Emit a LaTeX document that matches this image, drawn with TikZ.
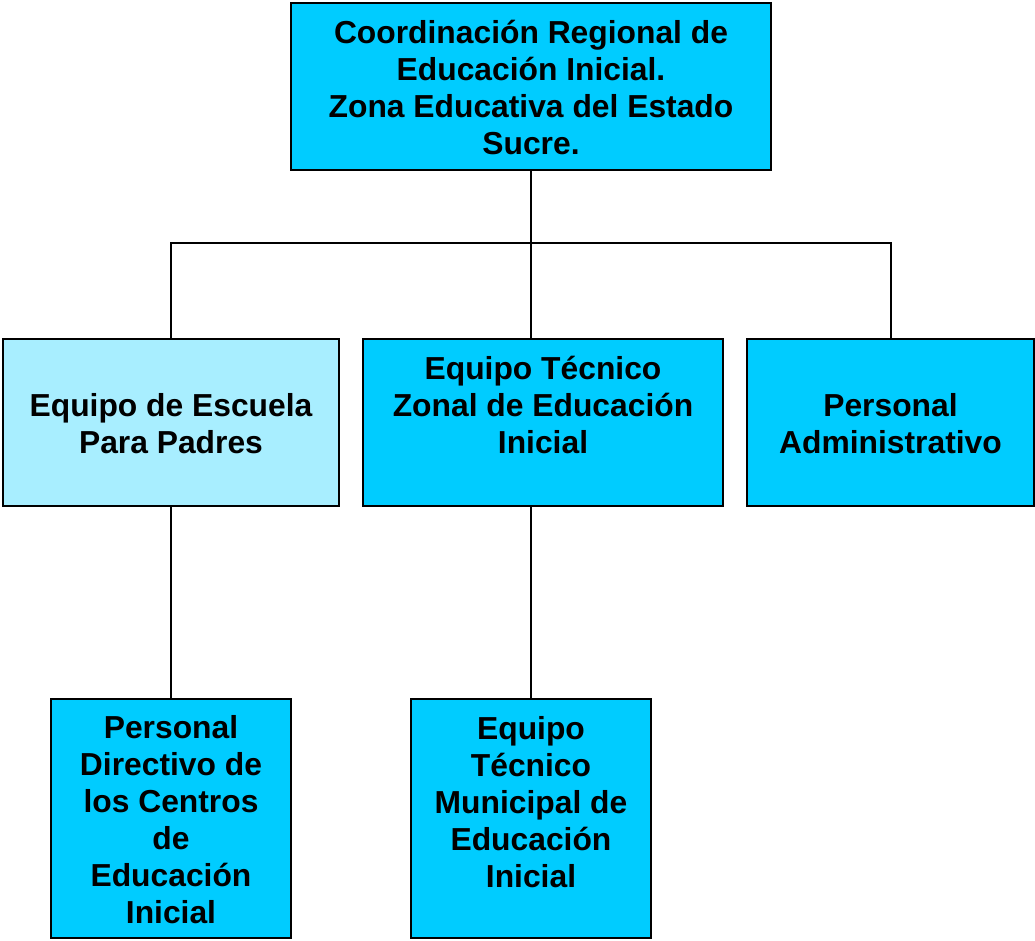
\documentclass[tikz,border=0pt]{standalone}
\usepackage{fontspec}
\setmainfont{Liberation Sans}
\definecolor{boxblue}{HTML}{00CCFF}
\definecolor{boxlight}{HTML}{A8EEFF}
\begin{document}
\begin{tikzpicture}[x=1pt,y=-1pt,
  orgbox/.style={draw=black,line width=2pt,fill=boxblue,inner sep=0pt,align=center},
  boxtext/.style={inner sep=0pt,align=center,font=\fontsize{31.8}{37}\selectfont\bfseries},
  link/.style={draw=black,line width=1.6pt}]
\useasboundingbox (0,0) rectangle (1035,940);
\node[orgbox,minimum width=480,minimum height=167] (top) at (531,86.5) {};
\node[boxtext] (toptext) at (531,87.5)
  {Coordinación Regional de\\Educación Inicial.\\Zona Educativa del Estado\\Sucre.};
\node[orgbox,fill=boxlight,minimum width=336,minimum height=167] (esc) at (171,422.5) {};
\node[boxtext] (esctext) at (171,423.5) {Equipo de Escuela\\Para Padres};
\node[orgbox,minimum width=360,minimum height=167] (tec) at (543,422.5) {};
\node[boxtext] (tectext) at (543,405) {Equipo Técnico\\Zonal de Educación\\Inicial};
\node[orgbox,minimum width=287,minimum height=167] (adm) at (890.5,422.5) {};
\node[boxtext] (admtext) at (890.5,423.5) {Personal\\Administrativo};
\node[orgbox,minimum width=240,minimum height=239] (dir) at (171,818.5) {};
\node[boxtext] (dirtext) at (171,820)
  {Personal\\Directivo de\\los Centros\\de\\Educación\\Inicial};
\node[orgbox,minimum width=240,minimum height=239] (mun) at (531,818.5) {};
\node[boxtext] (muntext) at (531,802)
  {Equipo\\Técnico\\Municipal de\\Educación\\Inicial};
\coordinate (hub) at (531,243);
\coordinate (hl) at (171,243);
\coordinate (hr) at (891,243);
\draw[link] (top.south -| hub) -- (hub);
\draw[link] (esc.north -| hl) -- (hl) -- (hr) -- (adm.north -| hr);
\draw[link] (hub) -- (tec.north -| hub);
\draw[link] (esc.south -| dir.north) -- (dir.north);
\draw[link] (tec.south -| mun.north) -- (mun.north);
\end{tikzpicture}
\end{document}
